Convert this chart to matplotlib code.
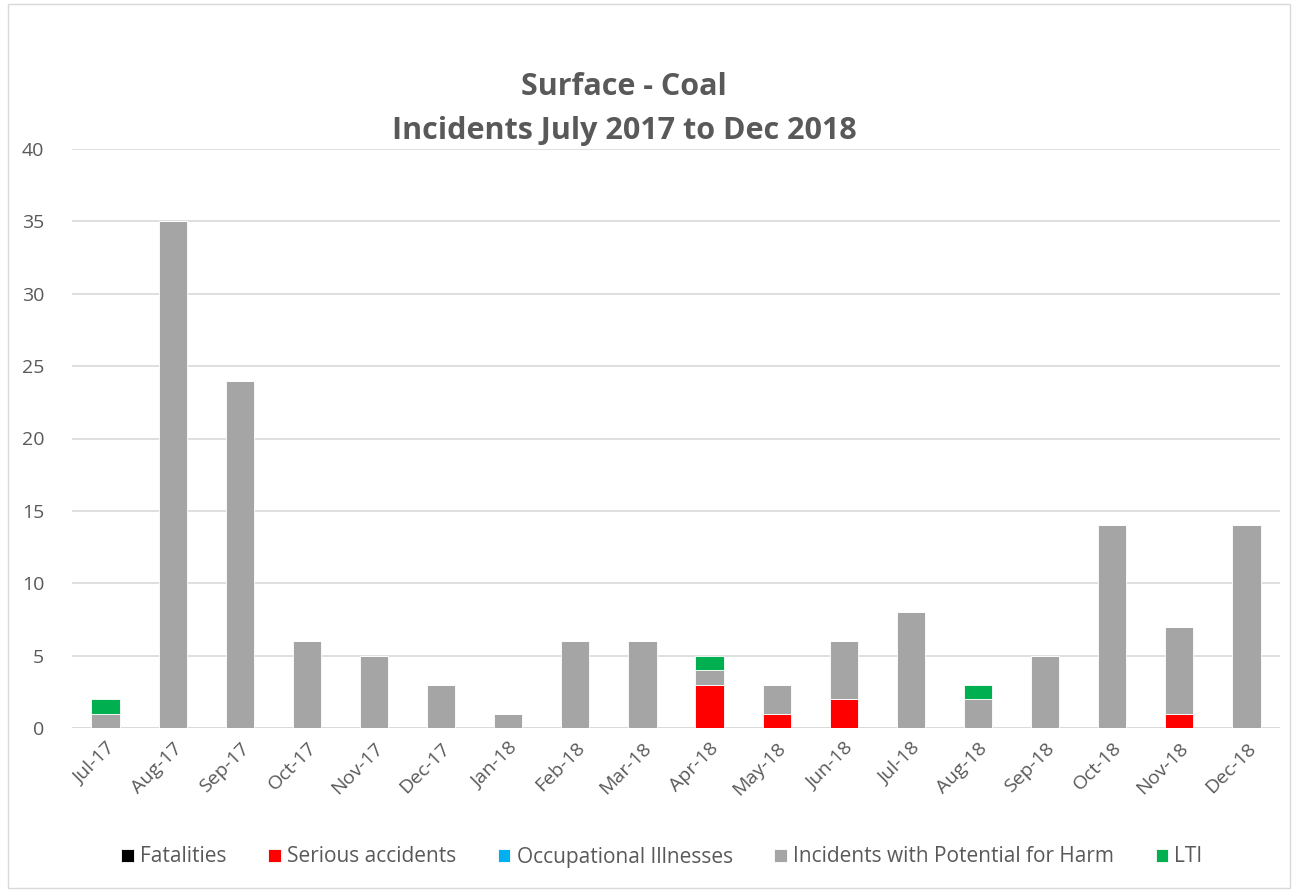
import matplotlib as mpl
mpl.use('Agg')
import matplotlib.pyplot as plt
from matplotlib.patches import Rectangle
import numpy as np

plt.rcParams['font.family'] = ['Liberation Sans Narrow', 'Open Sans', 'DejaVu Sans']

months = ['Jul-17', 'Aug-17', 'Sep-17', 'Oct-17', 'Nov-17', 'Dec-17', 'Jan-18', 'Feb-18', 'Mar-18',
          'Apr-18', 'May-18', 'Jun-18', 'Jul-18', 'Aug-18', 'Sep-18', 'Oct-18', 'Nov-18', 'Dec-18']
fatalities = [0, 0, 0, 0, 0, 0, 0, 0, 0, 0, 0, 0, 0, 0, 0, 0, 0, 0]
serious = [0, 0, 0, 0, 0, 0, 0, 0, 0, 3, 1, 2, 0, 0, 0, 0, 1, 0]
illnesses = [0, 0, 0, 0, 0, 0, 0, 0, 0, 0, 0, 0, 0, 0, 0, 0, 0, 0]
potential = [1, 35, 24, 6, 5, 3, 1, 6, 6, 1, 2, 4, 8, 2, 5, 14, 6, 14]
lti = [1, 0, 0, 0, 0, 0, 0, 0, 0, 1, 0, 0, 0, 1, 0, 0, 0, 0]

series = [('Fatalities', fatalities, '#000000'),
          ('Serious accidents', serious, '#ff0000'),
          ('Occupational Illnesses', illnesses, '#00b0f0'),
          ('Incidents with Potential for Harm', potential, '#a5a5a5'),
          ('LTI', lti, '#00b050')]

txt = '#595959'
fig = plt.figure(figsize=(12.92, 8.91), dpi=100)
fig.patches.append(Rectangle((8/1292, 3/891), 1282/1292, 884/891, transform=fig.transFigure,
                             fill=False, edgecolor='#d9d9d9', lw=1))
ax = fig.add_axes([72/1292, 1-728/891, 1208/1292, (728-149)/891])

x = np.arange(len(months))
bottom = np.zeros(len(months))
for name, vals, col in series:
    vals = np.array(vals, dtype=float)
    ax.bar(x, vals, 0.42, bottom=bottom, color=col, edgecolor='white', linewidth=0.6, label=name, zorder=3)
    bottom += vals

ax.set_xlim(-0.5, len(months) - 0.5)
ax.set_ylim(0, 40)
ax.set_yticks(range(0, 41, 5))
ax.grid(axis='y', color='#d9d9d9', lw=1.2, zorder=0)
for s in ax.spines.values():
    s.set_visible(False)
ax.axhline(0, color='#d9d9d9', lw=1.2, zorder=2)
ax.tick_params(length=0, labelsize=14, colors=txt, pad=8)
ax.tick_params(axis='y', pad=20)
ax.set_xticks(x)
ax.set_xticklabels(months, rotation=45, ha='right', rotation_mode='anchor')

fig.text(624/1292, 1-87/891, 'Surface - Coal', ha='center', va='center', fontsize=22,
         fontweight='bold', color=txt)
fig.text(624/1292, 1-131/891, 'Incidents July 2017 to Dec 2018', ha='center', va='center',
         fontsize=22, fontweight='bold', color=txt)

fig.legend(loc='center', bbox_to_anchor=(662/1292, 1-857/891), ncol=5, frameon=False,
           fontsize=15, handlelength=0.6, handleheight=0.6, handletextpad=0.3, columnspacing=2.0,
           labelcolor=txt)

fig.savefig('out.png', dpi=100)
